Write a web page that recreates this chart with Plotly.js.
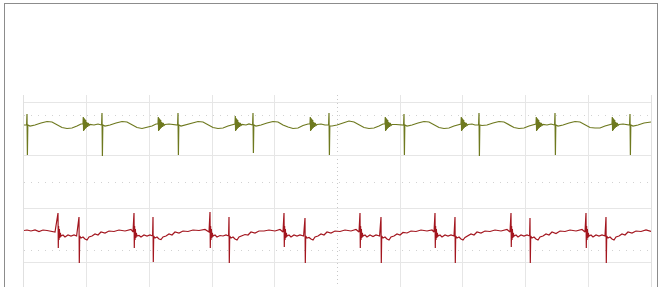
<!DOCTYPE html>
<html>
<head>
<meta charset="utf-8">
<script src="https://cdn.plot.ly/plotly-3.0.1.min.js"></script>
<style>
  html, body { margin: 0; padding: 0; background: #fff; }
  #chart { position: absolute; left: 0; top: 0; width: 661px; height: 287px; }
  #frame { position: absolute; left: 4px; top: 3px; width: 652px; height: 300px;
           border: 1px solid #8c8c8c; border-bottom: none; pointer-events: none; }
</style>
</head>
<body>
<div id="chart"></div>
<div id="frame"></div>
<script>
// Channel 1 (olive) – time (screen units, 62.7 per division) and level
const ch1Time = [
  0, 2.6, 3, 3.4, 3.8, 6, 11, 17, 23, 28, 33, 38, 43, 48, 53, 57,
  59, 59.3, 59.6, 60, 60.4, 60.8, 61.2, 61.7, 62.2, 62.8, 63.5, 64.2, 65, 66, 70, 74, 77.6,
  78, 78.4, 78.8, 81, 86, 92, 98, 103, 108, 113, 118, 123, 128, 132,
  134, 134.3, 134.6, 135, 135.4, 135.8, 136.2, 136.7, 137.2, 137.8, 138.5, 139.2, 140, 141, 145, 149, 153.6,
  154, 154.4, 154.8, 157, 162, 168, 174, 179, 184, 189, 194, 199, 204, 209,
  211, 211.3, 211.6, 212, 212.4, 212.8, 213.2, 213.7, 214.2, 214.8, 215.5, 216.2, 217, 218, 222, 225, 228.6,
  229, 229.4, 229.8, 232, 237, 243, 249, 254, 259, 264, 269, 274, 279, 284,
  286, 286.3, 286.6, 287, 287.4, 287.8, 288.2, 288.7, 289.2, 289.8, 290.5, 291.2, 292, 293, 297, 301, 304.6,
  305, 305.4, 305.8, 308, 313, 319, 325, 330, 335, 340, 345, 350, 355, 359,
  361, 361.3, 361.6, 362, 362.4, 362.8, 363.2, 363.7, 364.2, 364.8, 365.5, 366.2, 367, 368, 372, 376, 379.6,
  380, 380.4, 380.8, 383, 388, 394, 400, 405, 410, 415, 420, 425, 430, 435,
  437, 437.3, 437.6, 438, 438.4, 438.8, 439.2, 439.7, 440.2, 440.8, 441.5, 442.2, 443, 444, 448, 451, 454.6,
  455, 455.4, 455.8, 458, 463, 469, 475, 480, 485, 490, 495, 500, 505, 510,
  512, 512.3, 512.6, 513, 513.4, 513.8, 514.2, 514.7, 515.2, 515.8, 516.5, 517.2, 518, 519, 523, 527, 530.6,
  531, 531.4, 531.8, 534, 539, 545, 551, 556, 561, 566, 571, 576, 581, 586,
  588, 588.3, 588.6, 589, 589.4, 589.8, 590.2, 590.7, 591.2, 591.8, 592.5, 593.2, 594, 595, 599, 602, 605.6,
  606, 606.4, 606.8, 609, 614, 620, 627
];
const ch1Level = [
  57, 57, 68, 27, 57, 56, 57, 59, 60.5, 60, 57, 54.5, 53.5, 54, 56, 58,
  58, 65, 51, 64, 52, 63, 53, 62, 54, 60, 55, 59, 56.5, 57.5, 57, 58, 57,
  69, 26, 57, 56, 57, 59, 60.5, 60, 57, 54.5, 53.5, 54.5, 56, 58,
  58, 65, 51, 64, 52, 63, 53, 62, 54, 60, 55, 59, 56.5, 57.5, 58, 57.5, 57,
  69, 27, 57, 56, 57.5, 59, 60.5, 60, 57, 54.5, 53.5, 54, 56, 58,
  58, 66, 51, 64, 52, 63, 53, 62, 54, 60, 55, 59, 56.5, 57.5, 57, 58, 57,
  69, 29, 57, 56, 57, 59, 60.5, 60, 57, 55, 53.5, 54, 56.5, 58,
  58, 65, 51, 64, 52, 63, 53, 62, 54, 60, 55, 59, 56.5, 57.5, 58, 57, 57,
  69, 27, 56, 56, 57, 59, 61, 60, 57, 54.5, 53.5, 54, 56, 58,
  58, 65, 51, 64, 52, 63, 53, 62, 54, 60, 55, 59, 56.5, 57.5, 57.5, 57, 57,
  68, 27, 57, 56, 57, 59, 60.5, 60, 57.5, 54.5, 53.5, 54, 56, 58,
  58, 65, 51, 64, 52, 63, 53, 62, 54, 60, 55, 59, 56.5, 57.5, 58, 57, 57,
  69, 26, 57, 56.5, 57, 59, 60.5, 60, 57, 54.5, 53.5, 54, 56, 58,
  58, 65, 51, 64, 52, 63, 53, 62, 54, 60, 55, 59, 56.5, 57.5, 57, 58, 57,
  69, 27, 57, 56, 57, 59, 60.5, 60, 57, 54.5, 54, 54, 56, 58,
  58, 65, 51, 64, 52, 63, 53, 62, 54, 60, 55, 59, 56.5, 57.5, 58, 57.5, 57,
  68, 27, 57, 56, 57, 59, 60
];

// Channel 2 (red)
const ch2Time = [
  0, 3, 7, 11, 15, 19, 23, 27, 31,
  34, 34.3, 34.6, 35, 35.4, 35.8, 36.3, 37, 39, 41, 44, 47, 50, 52.6,
  55, 55.3, 55.7, 57, 59, 61, 63, 65, 68, 71, 74, 77, 81, 85, 90, 95, 101, 107, 109,
  110, 110.3, 110.6, 111, 111.4, 111.8, 112.3, 113, 115, 117, 120, 123, 126, 128.6,
  129, 129.3, 129.7, 131, 133, 135, 137, 139, 142, 145, 148, 151, 155, 159, 164, 169, 175, 181, 185,
  186, 186.3, 186.6, 187, 187.4, 187.8, 188.3, 189, 191, 193, 196, 199, 202, 204.6,
  205, 205.3, 205.7, 207, 209, 211, 213, 215, 218, 221, 224, 227, 231, 235, 240, 245, 251, 256, 259,
  260, 260.3, 260.6, 261, 261.4, 261.8, 262.3, 263, 265, 267, 270, 273, 276, 279.6,
  281, 281.3, 281.7, 283, 285, 287, 289, 291, 294, 297, 300, 303, 307, 311, 316, 321, 327, 332, 335,
  336, 336.3, 336.6, 337, 337.4, 337.8, 338.3, 339, 341, 343, 346, 349, 352, 355.6,
  357, 357.3, 357.7, 359, 361, 363, 365, 367, 370, 373, 376, 379, 383, 387, 392, 397, 403, 408, 410,
  411, 411.3, 411.6, 412, 412.4, 412.8, 413.3, 414, 416, 418, 421, 424, 427, 430,
  431, 431.3, 431.7, 433, 435, 437, 439, 441, 444, 447, 450, 453, 457, 461, 466, 471, 477, 483, 486,
  487, 487.3, 487.6, 488, 488.4, 488.8, 489.3, 490, 492, 494, 497, 500, 503, 505.6,
  506, 506.3, 506.7, 508, 510, 512, 514, 516, 519, 522, 525, 528, 532, 536, 541, 546, 552, 558, 561,
  562, 562.3, 562.6, 563, 563.4, 563.8, 564.3, 565, 567, 569, 572, 575, 578, 581,
  582, 582.3, 582.7, 584, 586, 588, 590, 592, 595, 598, 601, 604, 608, 612, 617, 622, 627
];
const ch2Level = [
  -48.5, -48, -49, -48, -49.5, -48, -48.5, -49, -50,
  -31, -66, -44, -58, -47, -56, -51, -54, -53, -55, -53, -54, -53, -54,
  -35, -81, -54, -56, -55, -57, -58, -55, -54, -52, -53, -50, -51, -49, -49.5, -48, -49, -47.5, -50,
  -31, -66, -44, -58, -47, -56, -51, -54, -53.5, -55, -53, -54, -53, -54,
  -35, -80, -54, -56, -55, -57, -57.5, -55, -54, -52, -53, -50, -51, -49, -49.5, -48, -48.5, -47.5, -50,
  -30, -66, -44, -58, -47, -56, -51, -54, -53, -55, -53.5, -54, -53, -54,
  -35, -81, -54, -56, -55, -57, -58, -55, -54, -52.5, -53, -50, -51, -49, -49, -48, -49, -47.5, -50,
  -31, -65, -44, -58, -47, -56, -51, -54, -53, -55, -53, -54, -53, -54,
  -36, -81, -54, -56, -55.5, -57, -58, -55, -54, -52, -53, -50, -51, -49, -49.5, -48, -49, -47.5, -50,
  -31, -66, -44, -58, -47, -56, -51, -54, -53, -55, -53, -54.5, -53, -54,
  -35, -81, -54, -56, -55, -57, -58, -55, -54, -52, -53, -50.5, -51, -49, -49.5, -48, -49, -48, -50,
  -31, -66, -44, -58, -47, -56, -51, -54, -53, -55, -53, -54, -53, -54,
  -35, -81, -54, -56, -55, -57, -58, -55.5, -54, -52, -53, -50, -51, -49, -49.5, -48, -49, -47.5, -50,
  -31, -65, -44, -58, -47, -56, -51, -54, -53, -55, -53, -54, -53, -54,
  -36, -81, -54, -56, -55, -57, -58, -55, -54, -52, -53, -50, -51.5, -49, -49.5, -48, -49, -47.5, -50,
  -31, -66, -44, -58, -47, -56, -51, -54, -53, -55, -53, -54, -53, -54,
  -35, -81, -54, -56, -55, -57, -58, -55, -54, -52, -53, -50, -51, -49, -49.5, -48, -49.5
];

// Graticule positions (screen units)
const xGrid = [0, 62.7, 125.4, 188.1, 250.8, 376.2, 438.9, 501.6, 564.3, 627];
const xCenter = [313.5];
const yGrid = [80, 27, -26.5, -80];
const yDotted = [67, 0, -68];

const traces = [
  { x: ch1Time, y: ch1Level, type: 'scatter', mode: 'lines', name: 'C1',
    line: { color: '#6e791f', width: 1.2 }, hoverinfo: 'skip' },
  { x: ch2Time, y: ch2Level, type: 'scatter', mode: 'lines', name: 'C2',
    line: { color: '#a3161f', width: 1.2 }, hoverinfo: 'skip' }
];

const layout = {
  width: 661, height: 287,
  margin: { l: 24, r: 10, t: 95, b: 0 },
  paper_bgcolor: 'rgba(0,0,0,0)', plot_bgcolor: '#ffffff',
  showlegend: false,
  xaxis: {
    range: [0, 627], tickmode: 'array', tickvals: xGrid,
    showgrid: true, gridcolor: '#e6e6e6', gridwidth: 1,
    showticklabels: false, ticks: '', zeroline: false, showline: false,
    minor: { tickmode: 'array', tickvals: xCenter, showgrid: true,
             gridcolor: '#c8c8c8', griddash: '1px,3px', gridwidth: 1, ticks: '' }
  },
  yaxis: {
    range: [-105, 87], tickmode: 'array', tickvals: yGrid,
    showgrid: true, gridcolor: '#e6e6e6', gridwidth: 1,
    showticklabels: false, ticks: '', zeroline: false,
    showline: true, mirror: true, linecolor: '#e0e0e0', linewidth: 1,
    minor: { tickmode: 'array', tickvals: yDotted, showgrid: true,
             gridcolor: '#d2d2d2', griddash: '1px,6px', gridwidth: 1, ticks: '' }
  },
  annotations: [
    { x: -5, y: 61, xref: 'x', yref: 'y', text: 'C1', showarrow: false,
      font: { size: 5, color: '#6e791f', family: 'DejaVu Sans' } },
    { x: -6, y: -46, xref: 'x', yref: 'y', text: 'C2', showarrow: false,
      font: { size: 5, color: '#a3161f', family: 'DejaVu Sans' } },
    { x: 547, y: 90, xref: 'x', yref: 'y', text: '▸◂', showarrow: false,
      font: { size: 7, color: '#222222', family: 'DejaVu Sans' } }
  ]
};

Plotly.newPlot('chart', traces, layout, { displayModeBar: false, staticPlot: true });
</script>
</body>
</html>
